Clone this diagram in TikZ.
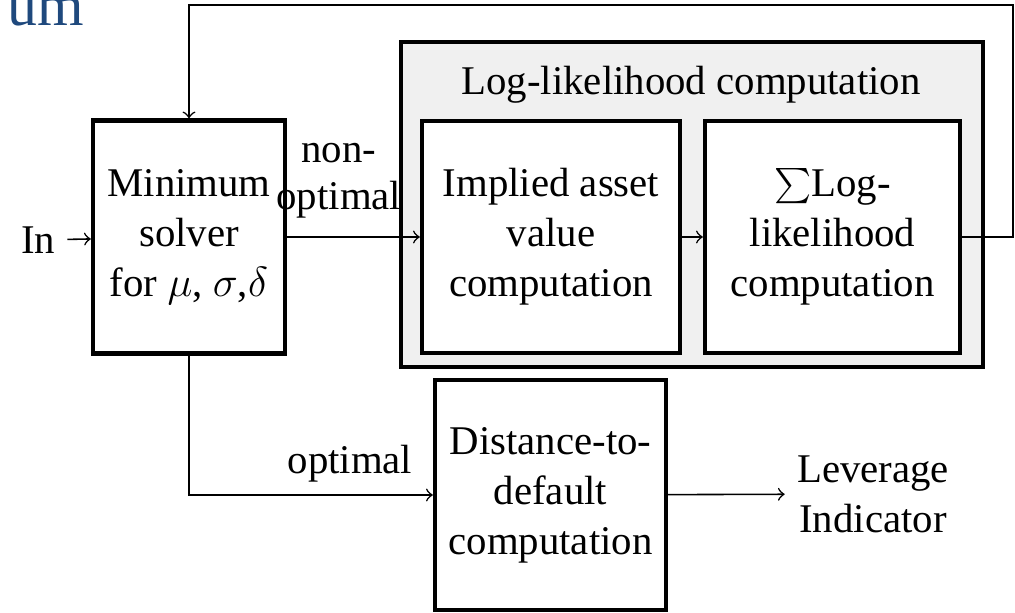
\documentclass[tikz,border=0pt]{standalone}
\usepackage{fontspec}
\setmainfont{Liberation Serif}
\usepackage{xcolor}
\usetikzlibrary{arrows, positioning, calc}
\definecolor{slidetitle}{RGB}{31,73,125}
\definecolor{groupgray}{RGB}{240,240,240}
\tikzset{
  block/.style = {draw, line width = 1.2pt, fill = white, align = center, inner sep = 0pt},
  group/.style = {draw, line width = 1.2pt, fill = groupgray, inner sep = 0pt},
  link/.style  = {line width = 0.45pt, ->}
}

\begin{document}
\begin{tikzpicture}[x=0.01cm, y=-0.01cm, font=\fontsize{11.6}{14.2}\selectfont]
  \useasboundingbox (0,0) rectangle (1015,613);

  % Cut slide title
  \node [anchor=base east, inner sep=0pt, text=slidetitle, font=\fontsize{17}{18}\selectfont] (title) at (85,26) {um};

  % Log-likelihood group
  \node [group, minimum width=5.82cm, minimum height=3.25cm] (llgroup) at (692,204.5) {};
  \node (lltitle) at (691,85) {Log-likelihood computation};
  \node [block, minimum width=2.58cm, minimum height=2.32cm] (implied) at (551,237) {Implied asset\\value\\computation};
  \node [block, minimum width=2.55cm, minimum height=2.32cm] (sumll)   at (832.5,237) {$\sum$Log-\\likelihood\\computation};

  % Solver and distance-to-default
  \node [block, minimum width=1.92cm, minimum height=2.33cm] (solver) at (189,237) {Minimum\\solver\\for $\mu$, $\sigma$,$\delta$};
  \node [block, minimum width=2.31cm, minimum height=2.30cm] (dtd)    at (550.5,495) {Distance-to-\\default\\computation};

  % Input and output
  \node (in)  at (38,240) {In};
  \node [align=center] (out) at (873,494) {Leverage\\Indicator};
  \coordinate (loop) at (1013,5);

  % Links
  \draw [link] (in) -- (solver);
  \draw [link] (solver) -- node [above=5pt, pos=0.39, inner sep=0pt, align=center, font=\fontsize{11.6}{13.4}\selectfont] {non-\\optimal} (implied);
  \draw [link] (implied) -- (sumll);
  \draw [link] (sumll.east) -- (sumll.east -| loop) -- (loop) -- (loop -| solver.north) -- (solver.north);
  \draw [link] (solver.south) |- node [above, pos=0.83] {optimal} (dtd.west);
  \draw [link] (dtd) -- (out);
\end{tikzpicture}
\end{document}
